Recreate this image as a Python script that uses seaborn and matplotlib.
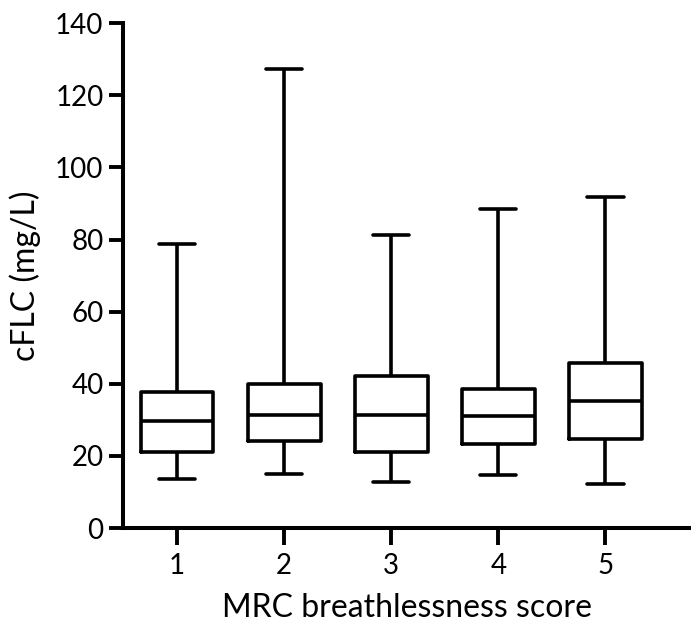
"""Box plot of cFLC by MRC breathlessness score (whiskers min to max)."""

import numpy as np
import pandas as pd
import matplotlib
matplotlib.use('Agg')
import matplotlib.pyplot as plt
import seaborn as sns

# five-number summaries, per MRC score
scores = ['1', '2', '3', '4', '5']
mins = [13.7, 15.1, 12.7, 14.8, 12.1]
q1s = [21.0, 24.2, 21.0, 23.4, 24.6]
medians = [29.8, 31.3, 31.3, 31.0, 35.2]
q3s = [37.7, 39.9, 42.1, 38.6, 45.9]
maxs = [78.7, 127.3, 81.2, 88.5, 91.7]
y_ticks = [0, 20, 40, 60, 80, 100, 120, 140]

# five points per group reproduce min/q1/median/q3/max exactly
rows = []
for s, a, b, c, d, e in zip(scores, mins, q1s, medians, q3s, maxs):
    for v in (a, b, c, d, e):
        rows.append({'score': s, 'cflc': v})
df = pd.DataFrame(rows)

sns.set_style('ticks')
plt.rcParams['font.family'] = ['Lato', 'DejaVu Sans']

fig = plt.figure(figsize=(6.91, 6.25), dpi=100)
ax = fig.add_axes([0.178, 0.155, 0.822, 0.808])

sns.boxplot(data=df, x='score', y='cflc', order=scores, ax=ax,
            whis=(0, 100), showfliers=False, fill=False, color='black',
            linewidth=2.6, width=0.68)

ax.set_ylim(0, 140)
ax.set_xlim(-0.505, 4.8)
ax.set_yticks(y_ticks)
ax.tick_params(axis='both', labelsize=20, width=2.8, length=10, color='black',
               labelcolor='black', pad=4)
ax.tick_params(axis='x', length=12, pad=6)
for side in ('left', 'bottom'):
    ax.spines[side].set_linewidth(2.9)
    ax.spines[side].set_color('black')
for side in ('top', 'right'):
    ax.spines[side].set_visible(False)

ax.set_xlabel('MRC breathlessness score', fontsize=23, labelpad=10, color='black')
ax.set_ylabel('cFLC (mg/L)', fontsize=23, labelpad=10, color='black')

fig.savefig('out.png', dpi=100)
